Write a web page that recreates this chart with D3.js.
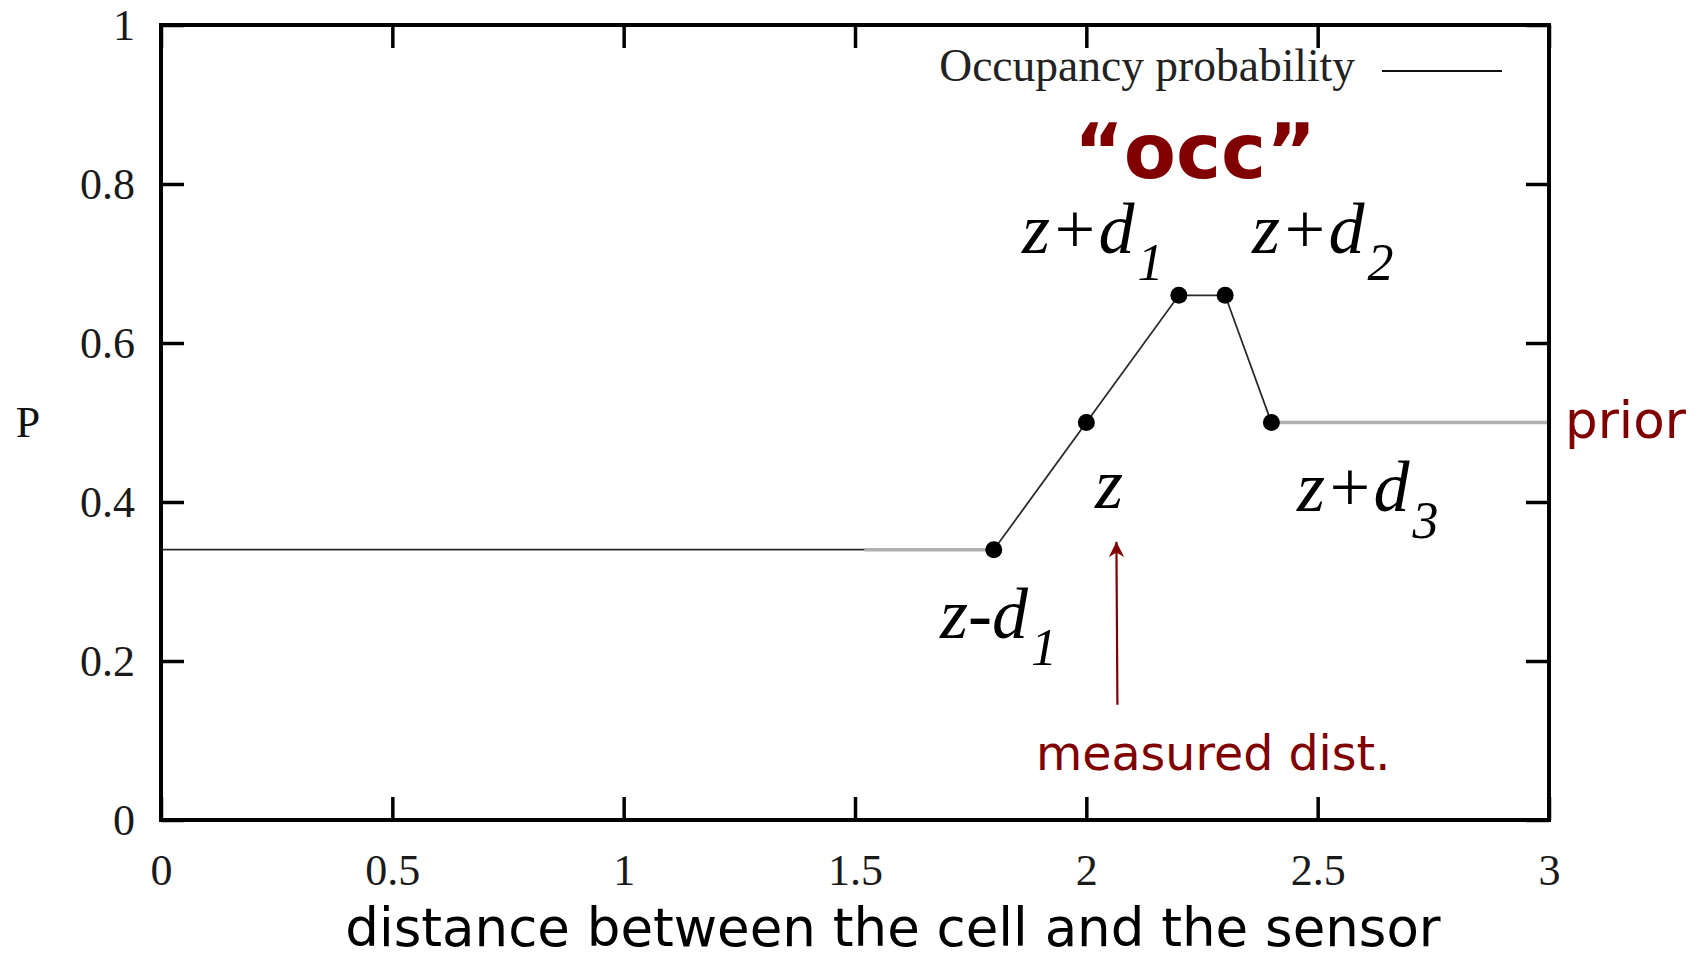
<!DOCTYPE html>
<html>
<head>
<meta charset="utf-8">
<script src="https://cdn.jsdelivr.net/npm/d3@7"></script>
<style>
  body { margin: 0; background: #fff; }
  svg { display: block; }
</style>
</head>
<body>
<div id="chart"></div>
<script>
// the values
const distances = [0, 1.8, 2.0, 2.2, 2.3, 2.4, 3];
const probs     = [0.34, 0.34, 0.5, 0.66, 0.66, 0.5, 0.5];
// which points get a black dot (the inner ones)
const dotIndex  = [1, 2, 3, 4, 5];
// the light grey pieces of the line (x ranges)
const fadedRanges = [[1.52, 1.8], [2.4, 3]];

const xTicks = [0, 0.5, 1, 1.5, 2, 2.5, 3];
const xTickLabels = ["0", "0.5", "1", "1.5", "2", "2.5", "3"];
const yTicks = [0, 0.2, 0.4, 0.6, 0.8, 1];
const yTickLabels = ["0", "0.2", "0.4", "0.6", "0.8", "1"];

const legendLabel = "Occupancy probability";
const xTitle = "distance between the cell and the sensor";
const yTitle = "P";
const measuredDist = 2.065;

// margins so the frame lands where it is in the picture
const margin = {top: 25, right: 156, bottom: 140, left: 161};
const width = 1705 - margin.left - margin.right,
      height = 960 - margin.top - margin.bottom;

const svg = d3.select("#chart").append("svg")
    .attr("width", width + margin.left + margin.right)
    .attr("height", height + margin.top + margin.bottom)
  .append("g")
    .attr("transform", "translate(" + margin.left + "," + margin.top + ")");

const x = d3.scaleLinear().domain([0, 3]).range([0, width]);
const y = d3.scaleLinear().domain([0, 1]).range([height, 0]);

const serif = "'Liberation Serif', 'Times New Roman', serif";
const sans = "'DejaVu Sans', Verdana, sans-serif";
const red = "#800000";

const points = distances.map((d, i) => ({x: d, y: probs[i]}));

// the curve itself
const line = d3.line().x(d => x(d.x)).y(d => y(d.y));

svg.append("path")
    .datum(points)
    .attr("fill", "none")
    .attr("stroke", "#2a2a2a")
    .attr("stroke-width", 1.8)
    .attr("d", line);

// grey overlay, clipped to the faded x ranges
const defs = svg.append("defs");
fadedRanges.forEach((r, i) => {
  defs.append("clipPath").attr("id", "fade" + i)
    .append("rect")
      .attr("x", x(r[0])).attr("width", x(r[1]) - x(r[0]))
      .attr("y", 0).attr("height", height);
  svg.append("path")
      .datum(points)
      .attr("clip-path", "url(#fade" + i + ")")
      .attr("fill", "none")
      .attr("stroke", "#b0b0b0")
      .attr("stroke-width", 3.5)
      .attr("d", line);
});

svg.selectAll("circle.dot")
  .data(dotIndex.map(i => points[i]))
  .join("circle")
    .attr("class", "dot")
    .attr("cx", d => x(d.x))
    .attr("cy", d => y(d.y))
    .attr("r", 8.5)
    .attr("fill", "#000");

// axes, ticks pointing in like gnuplot
const tickLen = 23;

svg.append("g")
    .attr("transform", `translate(0,${height})`)
    .call(d3.axisBottom(x).tickValues(xTicks)
      .tickFormat((d, i) => xTickLabels[i]).tickSize(-tickLen).tickPadding(34));

svg.append("g")
    .call(d3.axisTop(x).tickValues(xTicks).tickFormat("").tickSize(-tickLen));

svg.append("g")
    .call(d3.axisLeft(y).tickValues(yTicks)
      .tickFormat((d, i) => yTickLabels[i]).tickSize(-tickLen).tickPadding(26));

svg.append("g")
    .attr("transform", `translate(${width},0)`)
    .call(d3.axisRight(y).tickValues(yTicks).tickFormat("").tickSize(-tickLen));

svg.selectAll(".domain").remove();
svg.selectAll(".tick line").attr("stroke", "#000").attr("stroke-width", 3.5);
svg.selectAll(".tick text")
    .attr("font-family", serif)
    .attr("font-size", 44)
    .attr("fill", "#1a1a1a");

// the frame
svg.append("rect")
    .attr("x", 0).attr("y", 0)
    .attr("width", width).attr("height", height)
    .attr("fill", "none")
    .attr("stroke", "#000")
    .attr("stroke-width", 4);

// legend (top right)
svg.append("text")
    .attr("x", 1355 - margin.left)
    .attr("y", 81 - margin.top)
    .attr("text-anchor", "end")
    .attr("font-family", serif)
    .attr("font-size", 45.5)
    .attr("fill", "#222")
    .text(legendLabel);

svg.append("line")
    .attr("x1", 1382 - margin.left).attr("x2", 1502 - margin.left)
    .attr("y1", 71 - margin.top).attr("y2", 71 - margin.top)
    .attr("stroke", "#111")
    .attr("stroke-width", 2);

// axis titles
svg.append("text")
    .attr("x", 893 - margin.left)
    .attr("y", 946 - margin.top)
    .attr("text-anchor", "middle")
    .attr("font-family", sans)
    .attr("font-size", 53)
    .attr("fill", "#000")
    .text(xTitle);

svg.append("text")
    .attr("x", 28 - margin.left)
    .attr("y", 437 - margin.top)
    .attr("text-anchor", "middle")
    .attr("font-family", serif)
    .attr("font-size", 44)
    .attr("fill", "#111")
    .text(yTitle);

// annotations in dark red
svg.append("text")
    .attr("x", 1195 - margin.left)
    .attr("y", 178 - margin.top)
    .attr("text-anchor", "middle")
    .attr("font-family", sans)
    .attr("font-weight", "bold")
    .attr("font-size", 76)
    .attr("fill", red)
    .text("\u201Cocc\u201D");

svg.append("text")
    .attr("x", 1565 - margin.left)
    .attr("y", 438 - margin.top)
    .attr("font-family", sans)
    .attr("font-size", 51.5)
    .attr("fill", red)
    .text("prior");

svg.append("text")
    .attr("x", 1036 - margin.left)
    .attr("y", 770 - margin.top)
    .attr("font-family", sans)
    .attr("font-size", 47.5)
    .attr("fill", red)
    .text("measured dist.");

// arrow pointing up at z
defs.append("marker")
    .attr("id", "head")
    .attr("viewBox", "0 0 10 10")
    .attr("refX", 10).attr("refY", 5)
    .attr("markerWidth", 7).attr("markerHeight", 7)
    .attr("markerUnits", "strokeWidth")
    .attr("orient", "auto")
  .append("path")
    .attr("d", "M0,0 L10,5 L0,10 L3,5 Z")
    .attr("fill", red);

svg.append("line")
    .attr("x1", x(measuredDist) + 1).attr("y1", y(0.145))
    .attr("x2", x(measuredDist)).attr("y2", y(0.35))
    .attr("stroke", red)
    .attr("stroke-width", 2.2)
    .attr("marker-end", "url(#head)");

// the z labels, italic with subscripts
const zLabels = [
  {main: "z+d", sub: "1", px: 1022, py: 253},
  {main: "z+d", sub: "2", px: 1252, py: 253},
  {main: "z",   sub: "",  px: 1095, py: 508},
  {main: "z+d", sub: "3", px: 1297, py: 511},
  {main: "z-d", sub: "1", px: 940,  py: 638}
];

zLabels.forEach(l => {
  const t = svg.append("text")
      .attr("x", l.px - margin.left)
      .attr("y", l.py - margin.top)
      .attr("font-family", serif)
      .attr("font-style", "italic")
      .attr("font-size", 72)
      .attr("fill", "#000");
  t.append("tspan").text(l.main);
  if (l.sub) {
    t.append("tspan")
      .attr("dx", 3)
      .attr("dy", 27)
      .attr("font-size", 52)
      .text(l.sub);
  }
});
</script>
</body>
</html>
